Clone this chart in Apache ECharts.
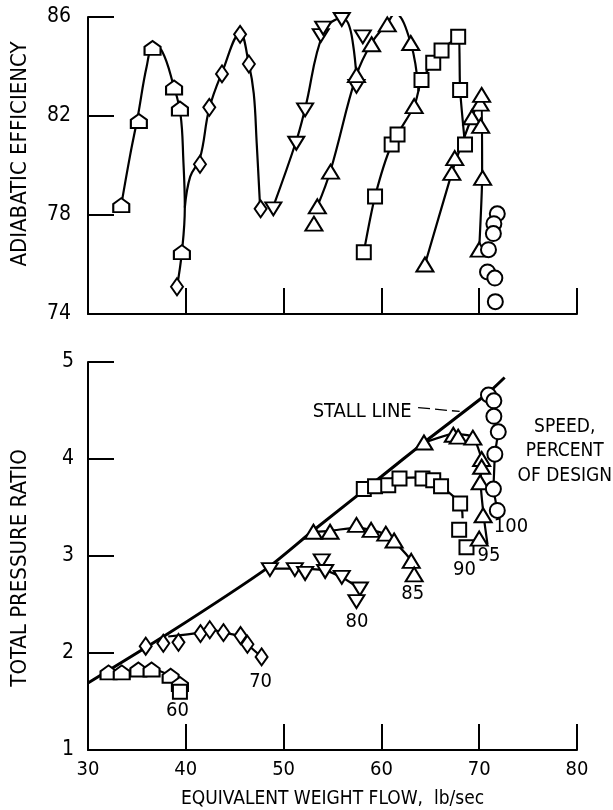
<!DOCTYPE html>
<html>
<head>
<meta charset="utf-8">
<script src="https://cdn.jsdelivr.net/npm/echarts@6/dist/echarts.min.js"></script>
<style>
  html, body { margin: 0; padding: 0; background: #fff; }
  #chart { width: 613px; height: 810px; }
</style>
</head>
<body>
<div id="chart"></div>
<script>
// Compressor performance map: adiabatic efficiency (top) and total pressure
// ratio (bottom) against equivalent weight flow, for speeds 60-100 % of design.

// ---- tick values ----
const flowTicks = [30, 40, 50, 60, 70, 80];
const effTicks = [74, 78, 82, 86];
const prTicks = [1, 2, 3, 4, 5];

// ---- adiabatic efficiency: measured points [flow, efficiency] ----
const eff60 = [[33.4, 78.4], [35.2, 81.8], [36.6, 84.75], [38.8, 83.15], [39.4, 82.3], [39.6, 76.5]];
const eff70 = [[39.1, 75.1], [41.45, 80.05], [42.4, 82.35], [43.7, 83.7], [45.55, 85.3], [46.45, 84.1], [47.65, 78.25]];
const eff80 = [[48.95, 78.25], [51.3, 80.9], [52.2, 82.25], [53.8, 85.25], [54.05, 85.55], [55.95, 85.9], [58.1, 85.2], [57.45, 83.2]];
const eff85 = [[53.1, 77.65], [53.45, 78.35], [54.8, 79.75], [57.45, 83.65], [59.0, 84.9], [60.6, 85.7], [61.4, 86.15], [63.0, 84.95], [63.35, 82.4]];
const eff90 = [[58.2, 76.5], [59.35, 78.75], [61.05, 80.85], [61.65, 81.25], [64.1, 83.45], [65.3, 84.15], [66.15, 84.65], [67.85, 85.2], [68.05, 83.05], [68.55, 80.85]];
const eff95 = [[64.45, 76.0], [67.2, 79.7], [67.5, 80.3], [69.25, 81.95], [70.1, 82.5], [70.25, 82.85], [70.15, 81.6], [70.35, 79.5], [70.0, 76.6]];
const eff100 = [[71.85, 78.05], [71.5, 77.65], [71.45, 77.25], [70.95, 76.6], [70.85, 75.7], [71.6, 75.45], [71.65, 74.5]];

// ---- adiabatic efficiency: faired curves ----
const effCurve60 = [[33.4, 78.4], [34.3, 80.4], [35.1, 82.0], [36.0, 84.0], [36.7, 84.85], [37.6, 84.6], [38.7, 83.3], [39.45, 82.1], [39.75, 80.2], [39.9, 78.3], [39.6, 76.5], [39.1, 75.1]];
const effCurve70 = [[39.9, 78.3], [40.45, 79.55], [41.45, 80.3], [42.4, 82.3], [43.7, 83.75], [45.55, 85.35], [46.45, 84.1], [46.95, 82.9], [47.25, 80.9], [47.6, 78.3]];
const effCurve80 = [[48.95, 78.35], [51.3, 81.0], [52.2, 82.3], [54.1, 85.4], [55.95, 85.95], [56.6, 85.75], [57.1, 84.9], [57.45, 83.6]];
const effCurve85 = [[53.45, 78.35], [54.8, 79.8], [57.45, 83.65], [59.0, 84.95], [60.6, 85.75], [61.4, 86.15], [63.0, 84.95], [63.8, 83.0]];
const effCurve90 = [[58.2, 76.5], [59.35, 78.75], [61.05, 80.85], [63.35, 82.4], [64.1, 83.45], [65.3, 84.15], [66.15, 84.65], [67.85, 85.2], [68.05, 83.05], [68.55, 80.85]];
const effCurve95 = [[64.45, 76.0], [67.2, 79.7], [67.7, 80.3], [69.25, 81.95], [70.25, 82.85], [70.3, 79.5], [70.0, 76.6]];

// ---- total pressure ratio: measured points [flow, pressure ratio] ----
const pr60 = [[32.1, 1.80], [33.45, 1.80], [35.15, 1.83], [36.5, 1.83], [38.45, 1.765], [39.4, 1.68]];
const pr60Square = [[39.4, 1.60]];
const pr70 = [[35.9, 2.07], [37.7, 2.10], [39.25, 2.11], [41.5, 2.20], [42.45, 2.24], [43.85, 2.21], [45.6, 2.18], [46.3, 2.09], [47.75, 1.96]];
const pr80 = [[48.6, 2.86], [51.15, 2.86], [52.2, 2.82], [53.9, 2.95], [54.25, 2.84], [55.95, 2.78], [57.8, 2.66], [57.45, 2.53]];
const pr85 = [[53.05, 3.25], [54.75, 3.25], [57.45, 3.32], [58.95, 3.27], [60.45, 3.23], [61.3, 3.16], [63.05, 2.95], [63.35, 2.81]];
const pr90 = [[58.2, 3.69], [59.35, 3.72], [60.7, 3.73], [61.85, 3.80], [64.2, 3.80], [65.3, 3.78], [66.1, 3.72], [68.05, 3.54], [67.95, 3.27], [68.7, 3.09]];
const pr95 = [[64.35, 4.17], [67.35, 4.25], [67.85, 4.23], [69.35, 4.22], [70.25, 4.0], [70.25, 3.92], [70.1, 3.76], [70.4, 3.42], [70.0, 3.18]];
const pr100 = [[70.95, 4.66], [71.5, 4.6], [71.5, 4.44], [71.95, 4.28], [71.6, 4.05], [71.45, 3.69], [71.85, 3.47]];

// ---- total pressure ratio: faired curves ----
const prCurve60 = [[31.6, 1.78], [33.45, 1.80], [35.15, 1.83], [36.5, 1.83], [38.45, 1.765], [39.4, 1.68], [39.4, 1.60]];
const prCurve70 = [[38.2, 2.17], [41.5, 2.21], [42.45, 2.24], [43.85, 2.21], [45.6, 2.17], [46.3, 2.09], [47.75, 1.96]];
const prCurve80 = [[48.5, 2.87], [51.15, 2.87], [54.25, 2.85], [55.95, 2.78], [57.8, 2.66]];
const prCurve85 = [[53.0, 3.25], [54.75, 3.26], [57.45, 3.29], [58.95, 3.27], [60.45, 3.22], [61.3, 3.15], [63.05, 2.95], [63.35, 2.81]];
const prCurve90 = [[61.0, 3.80], [64.2, 3.81], [65.3, 3.78], [66.1, 3.72], [68.05, 3.54], [68.3, 3.39]];
const prCurve95 = [[64.35, 4.17], [67.35, 4.26], [69.35, 4.23], [70.2, 4.0], [70.15, 3.76], [70.45, 3.42], [70.85, 3.12]];
const prCurve100 = [[70.95, 4.66], [71.5, 4.6], [71.5, 4.44], [71.95, 4.28], [71.6, 4.05], [71.45, 3.69], [71.85, 3.47]];

// ---- stall line and its callout ----
const stallLine = [[30, 1.69], [38.2, 2.2], [48.4, 2.88], [53, 3.26], [60, 3.82], [64.6, 4.19], [70.9, 4.68], [72.6, 4.84]];
const stallLeader = [[63.75, 4.53], [68.0, 4.49]];

// ---- text annotations [text, flow, pressure ratio] ----
const speedLabels = [['60', 39.15, 1.40], ['70', 47.65, 1.70], ['80', 57.5, 2.32], ['85', 63.2, 2.61],
                     ['90', 68.5, 2.86], ['95', 71.0, 3.0], ['100', 73.25, 3.30]];
const stallLabel = ['STALL LINE', 63.1, 4.49];
const speedTitle = ['SPEED,\nPERCENT\nOF DESIGN', 78.75, 4.08];

// ---- styling ----
const FONT = '"Liberation Sans Narrow", "DejaVu Sans Condensed", "Liberation Sans", sans-serif';
const INK = '#000';
const SYM = {
  pentagon: 'path://M0,5 L7,0 L14,5 L14,12 L0,12 Z',
  diamond: 'diamond',
  down: 'path://M0,0 L14,0 L7,12 Z',
  up: 'triangle',
  square: 'rect',
  circle: 'circle'
};
const SIZE = {
  pentagon: [16, 14], diamond: [12, 17], down: [16, 13],
  up: [17, 14], square: [14, 14], circle: [15, 15]
};

function curve(data, axis, smooth) {
  return {
    type: 'line', xAxisIndex: axis, yAxisIndex: axis, data: data,
    symbol: 'none', smooth: smooth === undefined ? 0.4 : smooth,
    lineStyle: { color: INK, width: 2.2 }, z: 2, silent: true
  };
}
function marks(data, axis, shape) {
  return {
    type: 'scatter', xAxisIndex: axis, yAxisIndex: axis, data: data,
    symbol: SYM[shape], symbolSize: SIZE[shape],
    itemStyle: { color: '#fff', borderColor: INK, borderWidth: 2, opacity: 1 },
    z: 3, silent: true
  };
}
function textMark(items, align, lineHeight, size) {
  return {
    type: 'scatter', xAxisIndex: 1, yAxisIndex: 1, symbolSize: 0, z: 4, silent: true,
    itemStyle: { opacity: 1 },
    data: items.map(function (t) { return { name: t[0], value: [t[1], t[2]] }; }),
    label: {
      show: true, position: 'inside', formatter: '{b}', color: INK, opacity: 1,
      textBorderWidth: 0, textShadowBlur: 0,
      fontFamily: FONT, fontSize: size || 20, align: align || 'center',
      verticalAlign: 'middle', lineHeight: lineHeight || 22
    }
  };
}

function valueAxis(grid, min, max, interval, showLabel, margin) {
  return {
    type: 'value', gridIndex: grid, min: min, max: max, interval: interval,
    axisLine: { show: true, onZero: false, lineStyle: { color: INK, width: 2 } },
    axisTick: { show: true, inside: true, length: 26, lineStyle: { color: INK, width: 2 } },
    axisLabel: { show: showLabel, color: INK, fontFamily: FONT, fontSize: 21, margin: margin },
    splitLine: { show: false }
  };
}

const chart = echarts.init(document.getElementById('chart'), null, { renderer: 'canvas' });

const xTop = valueAxis(0, flowTicks[0], flowTicks[flowTicks.length - 1], flowTicks[1] - flowTicks[0], false, 10);
const xBottom = valueAxis(1, flowTicks[0], flowTicks[flowTicks.length - 1], flowTicks[1] - flowTicks[0], true, 10);
xBottom.axisLabel.fontSize = 20;
xBottom.name = 'EQUIVALENT WEIGHT FLOW,  lb/sec';
xBottom.nameLocation = 'middle';
xBottom.nameGap = 40;
xBottom.nameTextStyle = { color: INK, fontFamily: FONT, fontSize: 19 };
const yTop = valueAxis(0, effTicks[0], effTicks[effTicks.length - 1], effTicks[1] - effTicks[0], true, 17);
const yBottom = valueAxis(1, prTicks[0], prTicks[prTicks.length - 1], prTicks[1] - prTicks[0], true, 14);

const NAME_FONT = '22px "DejaVu Sans Condensed", "Liberation Sans", sans-serif';

chart.setOption({
  animation: false,
  backgroundColor: '#fff',
  grid: [
    { left: 88, right: 36, top: 17, height: 297 },
    { left: 88, right: 36, top: 362, height: 392 }
  ],
  xAxis: [xTop, xBottom],
  yAxis: [yTop, yBottom],
  graphic: [
    { type: 'text', x: 20, y: 154, rotation: Math.PI / 2,
      style: { text: 'ADIABATIC EFFICIENCY', fill: INK, font: NAME_FONT,
               textAlign: 'center', textVerticalAlign: 'middle' } },
    { type: 'text', x: 20, y: 568, rotation: Math.PI / 2,
      style: { text: 'TOTAL PRESSURE RATIO', fill: INK, font: NAME_FONT,
               textAlign: 'center', textVerticalAlign: 'middle' } }
  ],
  series: [
    // efficiency
    curve(effCurve60, 0), curve(effCurve70, 0), curve(effCurve80, 0), curve(effCurve85, 0),
    curve(effCurve90, 0, 0.25), curve(effCurve95, 0, 0.15),
    marks(eff60, 0, 'pentagon'), marks(eff70, 0, 'diamond'), marks(eff80, 0, 'down'),
    marks(eff85, 0, 'up'), marks(eff90, 0, 'square'), marks(eff95, 0, 'up'), marks(eff100, 0, 'circle'),
    // pressure ratio
    {
      type: 'line', xAxisIndex: 1, yAxisIndex: 1, data: stallLine, symbol: 'none', smooth: 0.2,
      lineStyle: { color: INK, width: 3 }, z: 2, silent: true
    },
    {
      type: 'line', xAxisIndex: 1, yAxisIndex: 1, data: stallLeader, symbol: 'none',
      lineStyle: { color: INK, width: 1.3, type: [12, 5] }, z: 2, silent: true
    },
    curve(prCurve60, 1, 0.3), curve(prCurve70, 1, 0.3), curve(prCurve80, 1, 0.3), curve(prCurve85, 1, 0.3),
    curve(prCurve90, 1, 0.3), curve(prCurve95, 1, 0.15), curve(prCurve100, 1, 0),
    marks(pr60, 1, 'pentagon'), marks(pr60Square, 1, 'square'), marks(pr70, 1, 'diamond'),
    marks(pr80, 1, 'down'), marks(pr85, 1, 'up'), marks(pr90, 1, 'square'),
    marks(pr95, 1, 'up'), marks(pr100, 1, 'circle'),
    // annotations
    textMark(speedLabels),
    textMark([stallLabel], 'right'),
    textMark([speedTitle], 'center', 24.5, 19)
  ]
});
</script>
</body>
</html>
